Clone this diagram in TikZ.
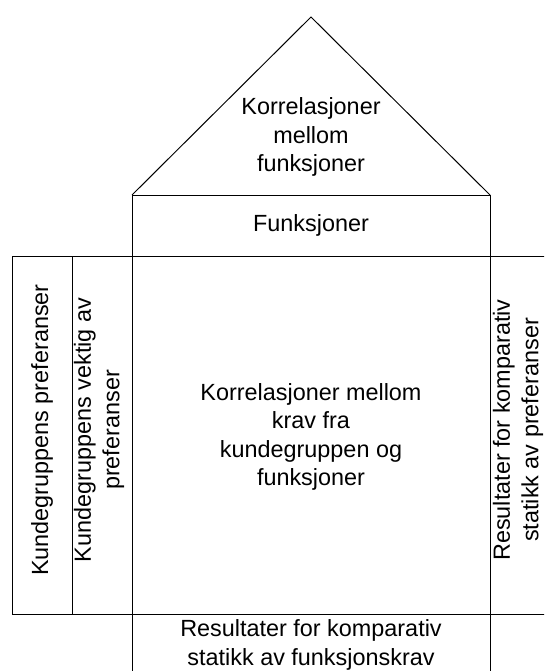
\documentclass[tikz,border=0pt]{standalone}
\usepackage{fontspec}
\setmainfont{Liberation Sans}
\usepackage{tikz}
\usetikzlibrary{positioning, calc}

\newcommand{\hqfont}{\fontsize{23.4}{28.5}\selectfont}

\begin{document}
\begin{tikzpicture}[
            x=1pt, y=-1pt,
            cell/.style={
                    rectangle, draw=black, line width=1pt,
                    inner sep=0pt, outer sep=0pt
                },
            label/.style={
                    align=center, font=\hqfont, text=black
                },
            sidelabel/.style={label, rotate=90},
            roofline/.style={draw=black, line width=1pt, line join=miter}
        ]
        \useasboundingbox (0,0) rectangle (544,671);
        \clip (0,0) rectangle (544,671);

        \node[cell, minimum width=358pt, minimum height=358pt] (rel) at (311,435) {};
        \node[cell, minimum width=358pt, minimum height=61pt, above=0pt of rel] (funk) {};
        \node[cell, minimum width=60pt, minimum height=358pt, left=0pt of rel] (vekt) {};
        \node[cell, minimum width=60pt, minimum height=358pt, left=0pt of vekt] (pref) {};
        \node[cell, minimum width=60pt, minimum height=358pt, right=0pt of rel] (komp) {};
        \node[cell, minimum width=358pt, minimum height=64pt, below=0pt of rel] (stat) {};

        % roof
        \coordinate[above=178pt of funk.north] (top);
        \draw[roofline] (funk.north west) -- (top) -- (funk.north east);

        \node[label] (roof) at ($(funk.north)+(0,-58)$) {Korrelasjoner\\mellom\\funksjoner};
        \node[label] (funktxt) at (funk) {Funksjoner};
        \node[label] (reltxt) at ($(rel)+(0,2)$) {Korrelasjoner mellom\\krav fra\\kundegruppen og\\funksjoner};
        \node[label] (stattxt) at ($(stat)+(0,-1)$) {Resultater for komparativ\\statikk av funksjonskrav};

        \node[sidelabel] (preftxt) at ($(pref)+(0,-5)$) {Kundegruppens preferanser};
        \node[sidelabel] (vekttxt) at ($(vekt)+(-3,-5)$) {Kundegruppens vektig av\\preferanser};
        \node[sidelabel] (komptxt) at ($(komp)+(-2,-5)$) {Resultater for komparativ\\statikk av preferanser};
    \end{tikzpicture}
\end{document}
